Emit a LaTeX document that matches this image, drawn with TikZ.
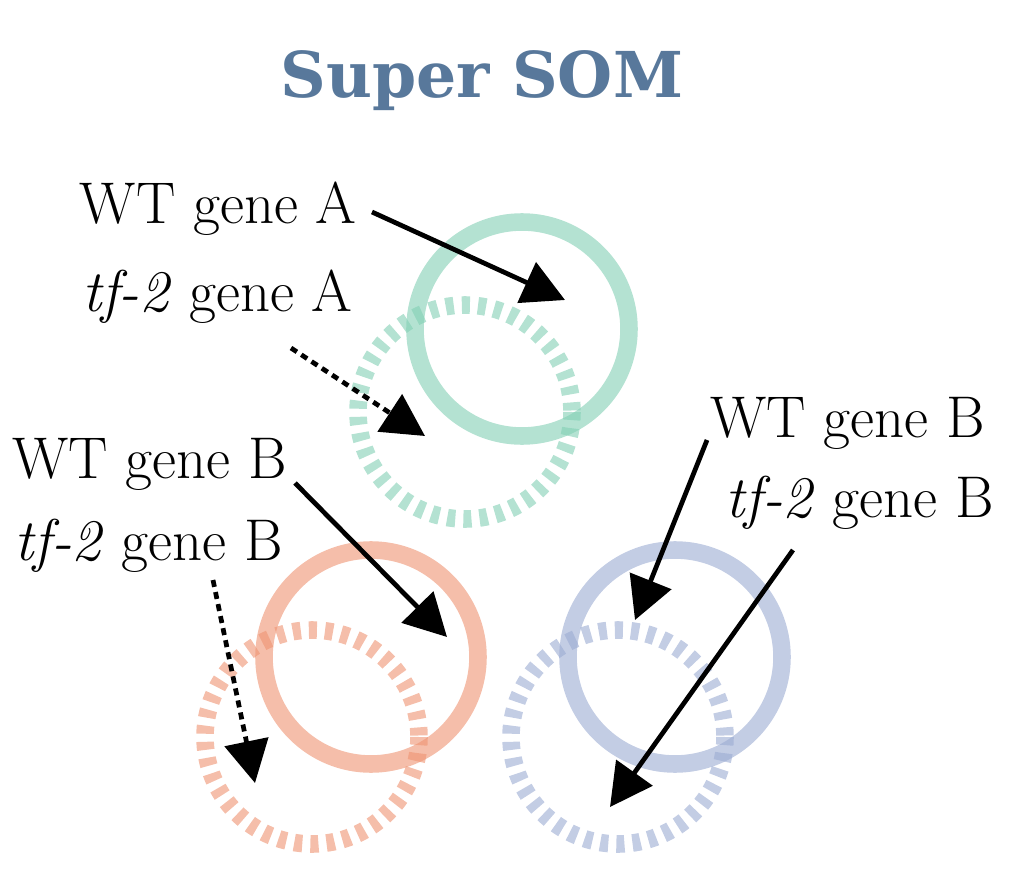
\documentclass[tikz,border=0pt]{standalone}
\usepackage{fontspec}
\newfontfamily\titlefont{DejaVu Serif}
\usetikzlibrary{positioning, arrows.meta}

\definecolor{somblue}{RGB}{88,120,155}
\definecolor{mint}{RGB}{130,207,180}
\definecolor{salmon}{RGB}{238,147,113}
\definecolor{lilac}{RGB}{155,171,210}

\begin{document}
\begin{tikzpicture}[
  x=0.02cm, y=-0.02cm,
  every node/.style={font=\fontsize{33.5}{40}\selectfont, inner sep=0pt},
  arr/.style={-{Triangle[length=24pt, width=25pt]}, line width=2.7pt, black},
  darr/.style={arr, dash pattern=on 4pt off 3pt},
  ring/.style={line width=10pt, draw opacity=0.6},
  dring/.style={ring, dash pattern=on 4.6pt off 4.6pt}
]
\useasboundingbox (0,0) rectangle (1018,892);

% ---- Title ----
\node[font=\titlefont\bfseries\fontsize{36}{42}\selectfont, text=somblue, anchor=base]
  (title) at (482,98) {Super SOM};

% ---- Circles (solid = WT, dashed = tf-2) ----
\draw[ring, mint]    (522,329) circle[radius=107];
\draw[dring, mint]   (465,412) circle[radius=107];
\draw[ring, salmon]  (371,657) circle[radius=107];
\draw[dring, salmon] (312,737) circle[radius=107];
\draw[ring, lilac]   (675,657) circle[radius=107];
\draw[dring, lilac]  (618,737) circle[radius=107];

% ---- Labels ----
\node[anchor=base east] (wtA)  at (357,223) {WT gene A};
\node[anchor=base east] (tfA)  at (353,311) {\textit{tf-2} gene A};
\node[anchor=base east] (wtBl) at (287,478) {WT gene B};
\node[anchor=base east] (tfBl) at (283,560) {\textit{tf-2} gene B};
\node[anchor=base west] (wtBr) at (710,437) {WT gene B};
\node[anchor=base west] (tfBr) at (725,517) {\textit{tf-2} gene B};

% ---- Arrow ends ----
\coordinate (sA)  at (372,212);  \coordinate (eA)  at (565,300);
\coordinate (sa)  at (291,348);  \coordinate (ea)  at (425,436);
\coordinate (sB)  at (295,483);  \coordinate (eB)  at (447,637);
\coordinate (sb)  at (213,580);  \coordinate (eb)  at (255,783);
\coordinate (sB2) at (707,440);  \coordinate (eB2) at (635,620);
\coordinate (sb2) at (793,550);  \coordinate (eb2) at (610,807);

% ---- Arrows ----
\foreach \s/\e in {sA/eA, sB/eB, sB2/eB2, sb2/eb2}
  \draw[arr] (\s) -- (\e);
\foreach \s/\e in {sa/ea, sb/eb}
  \draw[darr] (\s) -- (\e);

\end{tikzpicture}
\end{document}
